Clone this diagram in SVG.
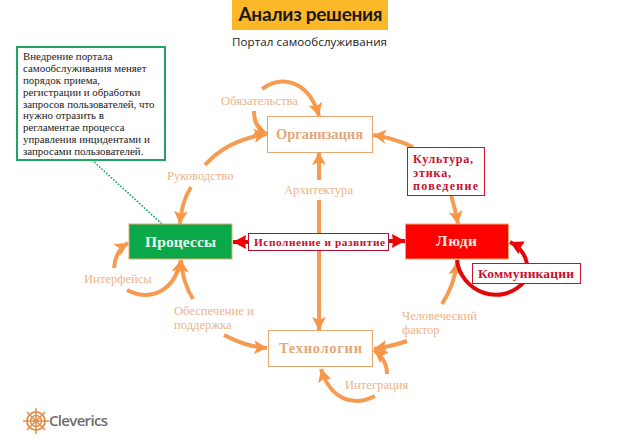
<svg xmlns="http://www.w3.org/2000/svg" width="638" height="442" viewBox="0 0 638 442">
<defs>
<marker id="ao" markerUnits="userSpaceOnUse" markerWidth="16" markerHeight="16" refX="13" refY="7" orient="auto"><path d="M0 0L13 7L0 14L3 7Z" fill="#F79646"/></marker>
<marker id="ar" markerUnits="userSpaceOnUse" markerWidth="16" markerHeight="16" refX="13" refY="7" orient="auto"><path d="M0 0L13 7L0 14L1 7Z" fill="#F00000"/></marker>
</defs>
<style>
.a{fill:none;stroke:#F59C52;stroke-width:4;marker-end:url(#ao)}
.r{fill:none;stroke:#E00808;stroke-width:4;marker-end:url(#ar)}
text{font-family:"Liberation Serif","Times New Roman",serif}
.l{font-size:12.6px;fill:#EDB48A}
.n{font-size:10.9px;fill:#1a1a1a}
.h{font-size:14.5px;font-weight:bold}
.rt{font-weight:bold;fill:#C8102E}
.s{font-family:"Open Sans",sans-serif}
</style>
<rect width="638" height="442" fill="#fff"/>
<g id="connectors">
<path class="a" d="M319 180V152"/>
<path class="a" d="M319 200V330"/>
<path class="a" d="M262 89C280 76 308 78 319 116"/>
<path class="a" d="M254 111C254 122 258 130 267 134"/>
<path class="a" d="M205 165C220 148 240 138 267 134"/>
<path class="a" d="M191 187C184 198 181 208 180 224"/>
<path class="a" d="M413 147C400 141 388 137 373 135"/>
<path class="a" d="M451 195C454 205 456 213 458 224"/>
<path class="a" d="M114 268C115 256 120 248 128 243"/>
<path class="a" d="M127 290C150 302 174 292 181 260"/>
<path class="a" d="M193 299C186 288 182 276 181 260"/>
<path class="a" d="M224 335C238 342 250 347 267 348"/>
<path class="a" d="M442 304C450 292 455 280 457 262"/>
<path class="a" d="M407 341C396 345 386 347 374 349"/>
<path class="a" d="M387 374C387 364 382 356 374 350"/>
<path class="a" d="M375 396C352 408 330 398 321 369"/>
<path class="r" d="M457 260C460 290 500 310 526 280C530 265 526 250 510 242"/>
<path class="r" d="M248 242H233"/>
<path class="r" d="M389 241H405"/>
<path d="M92 160L162 224" fill="none" stroke="#1FA463" stroke-width="1.6" stroke-dasharray="1.6 1.6"/>
</g>
<g id="title"><rect x="232" y="0" width="156" height="30" fill="#FDB827"/><text x="310.500" y="21" text-anchor="middle" font-size="19" font-weight="bold" fill="#1a1a1a" style="font-family:Lato,sans-serif" textLength="144">Анализ решения</text></g>
<g id="subtitle"><text class="s" x="309.500" y="46" text-anchor="middle" font-size="11.600" fill="#222" textLength="155">Портал самообслуживания</text></g>
<g id="note"><rect x="17" y="47" width="148" height="113" fill="#fff" stroke="#1FA463" stroke-width="2"/>
<text class="n" x="23" y="60">Внедрение портала</text>
<text class="n" x="23" y="72">самообслуживания  меняет</text>
<text class="n" x="23" y="84">порядок приема,</text>
<text class="n" x="23" y="96">регистрации и обработки</text>
<text class="n" x="23" y="108">запросов пользователей, что</text>
<text class="n" x="23" y="119">нужно отразить  в</text>
<text class="n" x="23" y="131">регламентае процесса</text>
<text class="n" x="23" y="143">управления инцидентами и</text>
<text class="n" x="23" y="155">запросами пользователей.</text></g>
<g id="org"><rect x="267.500" y="116.500" width="105" height="36" fill="#fff" stroke="#E8A66E"/><text class="h" x="276" y="139" fill="#E3A878" textLength="87">Организация</text></g>
<g id="proc"><rect x="129" y="224" width="103" height="35" fill="#0BA84A" stroke="#E8A66E"/><text class="h" x="145" y="247" fill="#E8FBEF" style="font-size:15.500px" textLength="71">Процессы</text></g>
<g id="people"><rect x="405.500" y="224" width="103" height="35" fill="#FF0000" stroke="#F4A868"/><text class="h" x="436" y="246" fill="#FBE8E8" style="font-size:15.500px" textLength="41">Люди</text></g>
<g id="tech"><rect x="268.500" y="330.500" width="104" height="36" fill="#fff" stroke="#E8A66E"/><text class="h" x="279" y="353" fill="#E3A878" textLength="83">Технологии</text></g>
<g id="exec"><rect x="248.500" y="233.500" width="140" height="17" fill="#fff" stroke="#B01030"/><text class="rt" x="254" y="246" font-size="11.300" textLength="131">Исполнение и развитие</text></g>
<g id="culture"><rect x="407.500" y="147.500" width="77" height="48" fill="#fff" stroke="#C8102E"/><text class="rt" x="413" y="163" font-size="12" textLength="60">Культура,</text><text class="rt" x="413" y="176.500" font-size="12" textLength="38">этика,</text><text class="rt" x="413" y="190" font-size="12" textLength="65">поведение</text></g>
<g id="comm"><rect x="472.500" y="263.500" width="108" height="20" fill="#fff" stroke="#C8102E"/><text class="rt" x="478" y="278" font-size="13.500" textLength="96">Коммуникации</text></g>
<g id="labels">
<text class="l" x="221" y="105">Обязательства</text>
<text class="l" x="167" y="180">Руководство</text>
<text class="l" x="284" y="194">Архитектура</text>
<text class="l" x="84" y="283">Интерфейсы</text>
<text class="l" x="174" y="315">Обеспечение и</text>
<text class="l" x="174" y="329">поддержка</text>
<text class="l" x="402" y="320">Человеческий</text>
<text class="l" x="402" y="334">фактор</text>
<text class="l" x="345" y="389">Интеграция</text>
</g>
<g id="logo" fill="none" stroke="#DE9250">
<circle cx="36" cy="421" r="9" stroke-width="2"/><circle cx="36" cy="421" r="5.500" stroke-width="1.500"/><circle cx="36" cy="421" r="2" stroke-width="1"/>
<path stroke-width="1.500" d="M36 408V434M23 421H49M27 412L45 430M45 412L27 430"/>
<text x="49" y="426" stroke="none" fill="#6D6E71" font-size="15" font-weight="600" textLength="59" style="font-family:'Open Sans',sans-serif">Cleverics</text></g>
</svg>
